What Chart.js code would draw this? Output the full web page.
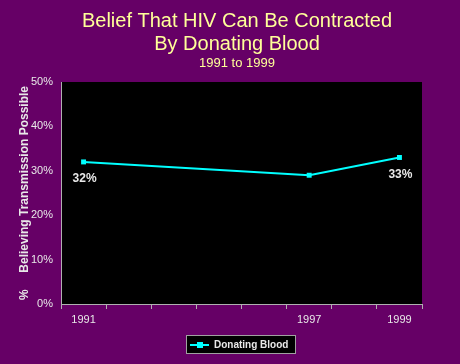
<!DOCTYPE html>
<html>
<head>
<meta charset="utf-8">
<script src="https://cdn.jsdelivr.net/npm/chart.js@4/dist/chart.umd.min.js"></script>
<style>
  html, body { margin: 0; padding: 0; background: #660066; }
  #wrap { width: 460px; height: 364px; position: relative; }
</style>
</head>
<body>
<div id="wrap"><canvas id="chart1" width="460" height="364"></canvas></div>
<script>
(function () {
    'use strict';

    // categories (one per year slot on the axis), only some are labelled
    var years = ['1991', '', '', '', '', '1997', '', '1999'];
    var donatingBlood = [32, null, null, null, null, 29, null, 33];
    var valueLabels = ['32%', null, null, null, null, null, null, '33%'];
    var yTicks = [0, 10, 20, 30, 40, 50];
    var titleLines = ['Belief That HIV Can Be Contracted', 'By Donating Blood'];
    var subTitle = '1991 to 1999';
    var seriesName = 'Donating Blood';

    var lineColor = '#00ffff';
    var textColor = '#e8e8e8';
    var font = '"Liberation Sans", Arial, sans-serif';

    var plotBg = {
        id: 'plotBg',
        beforeDraw: function (chart) {
            var c = chart.ctx, a = chart.chartArea;
            c.save();
            c.fillStyle = '#000000';
            c.fillRect(a.left, a.top, a.right - a.left, a.bottom - a.top);
            c.restore();
        }
    };

    var extras = {
        id: 'extras',
        afterDraw: function (chart) {
            var c = chart.ctx;
            c.save();
            // titles
            c.textAlign = 'center';
            c.textBaseline = 'middle';
            c.fillStyle = '#ffff99';
            c.font = '20px ' + font;
            c.fillText(titleLines[0], 237, 21);
            c.fillText(titleLines[1], 237, 44);
            c.font = '13px ' + font;
            c.fillText(subTitle, 237, 63);

            // value labels
            var meta = chart.getDatasetMeta(0);
            c.font = 'bold 12px ' + font;
            c.fillStyle = textColor;
            for (var i = 0; i < valueLabels.length; i++) {
                if (!valueLabels[i]) continue;
                var p = meta.data[i];
                c.fillText(valueLabels[i], p.x + 1, p.y + 17);
            }

            // legend
            c.fillStyle = '#000000';
            c.fillRect(186, 335, 110, 19);
            c.strokeStyle = '#a0a0a0';
            c.lineWidth = 1;
            c.strokeRect(186.5, 335.5, 109, 18);
            c.strokeStyle = lineColor;
            c.lineWidth = 2;
            c.beginPath();
            c.moveTo(190, 345);
            c.lineTo(209, 345);
            c.stroke();
            c.fillStyle = lineColor;
            c.fillRect(197, 342, 6, 6);
            c.fillStyle = textColor;
            c.textAlign = 'left';
            c.font = 'bold 10px ' + font;
            c.fillText(seriesName, 214, 345);
            c.restore();
        }
    };

    var ctx = document.getElementById('chart1');
    new Chart(ctx, {
        type: 'line',
        data: {
            labels: years,
            datasets: [{
                label: seriesName,
                data: donatingBlood,
                borderColor: lineColor,
                backgroundColor: lineColor,
                borderWidth: 2,
                pointStyle: 'rect',
                pointRadius: 3.5,
                pointBorderWidth: 0,
                spanGaps: true,
                tension: 0
            }]
        },
        options: {
            responsive: false,
            animation: false,
            layout: { padding: { top: 82, left: 0, right: 38, bottom: 0 } },
            plugins: {
                legend: { display: false },
                title: { display: false },
                tooltip: { enabled: false }
            },
            scales: {
                x: {
                    offset: true,
                    grid: {
                        offset: true,
                        drawOnChartArea: false,
                        color: '#b0b0b0',
                        tickLength: 5
                    },
                    border: { color: '#b0b0b0', width: 1 },
                    ticks: {
                        autoSkip: false,
                        maxRotation: 0,
                        color: textColor,
                        font: { family: font, size: 11 },
                        padding: 4
                    },
                    afterFit: function (axis) { axis.height = 60; }
                },
                y: {
                    min: 0,
                    max: 50,
                    afterBuildTicks: function (axis) {
                        axis.ticks = yTicks.map(function (v) { return { value: v }; });
                    },
                    grid: { drawOnChartArea: false, drawTicks: false },
                    border: { color: '#b0b0b0', width: 1 },
                    ticks: {
                        color: textColor,
                        font: { family: font, size: 11 },
                        padding: 8,
                        callback: function (v) { return v + '%'; }
                    },
                    title: {
                        display: true,
                        text: '%     Believing Transmission Possible',
                        color: textColor,
                        font: { family: font, size: 12, weight: 'bold' },
                        padding: { top: 17, bottom: 0 }
                    },
                    afterFit: function (axis) { axis.width = 61; }
                }
            }
        },
        plugins: [plotBg, extras]
    });
})();
</script>
</body>
</html>
